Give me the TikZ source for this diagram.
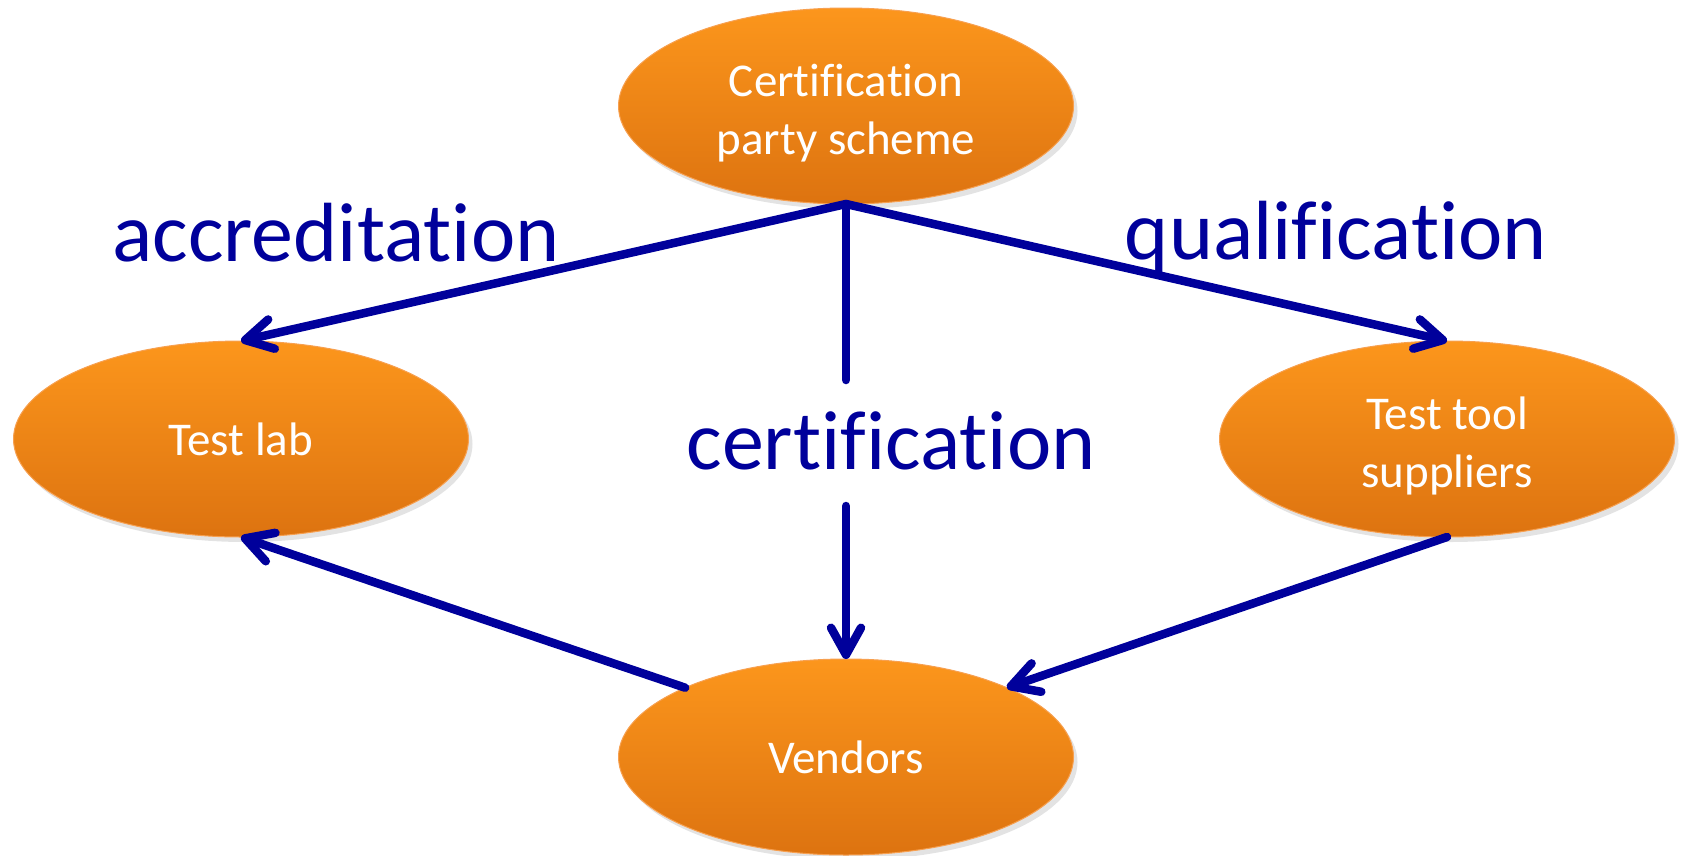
\documentclass[tikz,border=0pt]{standalone}
\usepackage{fontspec}
\setmainfont{Carlito}[Ligatures={NoCommon,NoRare,NoContextual}]
\usetikzlibrary{shapes.geometric,arrows.meta,shadows}
\definecolor{navyline}{RGB}{0,0,155}
\definecolor{orangetop}{RGB}{252,150,28}
\definecolor{orangebot}{RGB}{221,115,16}
\definecolor{orangeedge}{RGB}{247,160,80}
\newcommand{\toplift}{\rule{0pt}{46pt}}
\tikzset{
  party/.style={ellipse, minimum width=455pt, minimum height=196pt, inner sep=0pt, outer sep=0pt,
    top color=orangetop, bottom color=orangebot, draw=orangeedge, line width=1pt,
    drop shadow={opacity=0.22, shadow xshift=4pt, shadow yshift=-5pt},
    text=white, align=center, font=\fontsize{47}{58}\selectfont},
  rel/.style={draw=navyline, line width=8.5pt, line cap=round, line join=round},
  relarrow/.style={rel, -{Straight Barb[length=27pt, width=30pt, round]}},
  rellabel/.style={text=navyline, anchor=base, inner sep=0pt, font=\fontsize{84}{100}\selectfont}
}
\begin{document}
\begin{tikzpicture}[x=1pt, y=-1pt]
\useasboundingbox (0,0) rectangle (1683,855);
\node[party] (cps) at (846,106) {\toplift Certification\\party scheme};
\node[party] (lab) at (241,439) {Test lab};
\node[party] (tool) at (1447,439) {\toplift Test tool\\suppliers};
\node[party] (ven) at (846,757) {Vendors};
\coordinate (gaptop) at (846,380);
\coordinate (gapbot) at (846,506);
\draw[relarrow] (cps.south) -- (lab.north);
\draw[relarrow] (cps.south) -- (tool.north);
\draw[rel] (cps.south) -- (gaptop);
\draw[relarrow] (gapbot) -- (ven.north);
\draw[relarrow] (ven.north west) -- (lab.south);
\draw[relarrow] (tool.south) -- (ven.north east);
\node[rellabel] (acc) at (336,261) {accreditation};
\node[rellabel] (qual) at (1336,259) {qualification};
\node[rellabel] (cert) at (891,469) {certification};
\end{tikzpicture}
\end{document}
